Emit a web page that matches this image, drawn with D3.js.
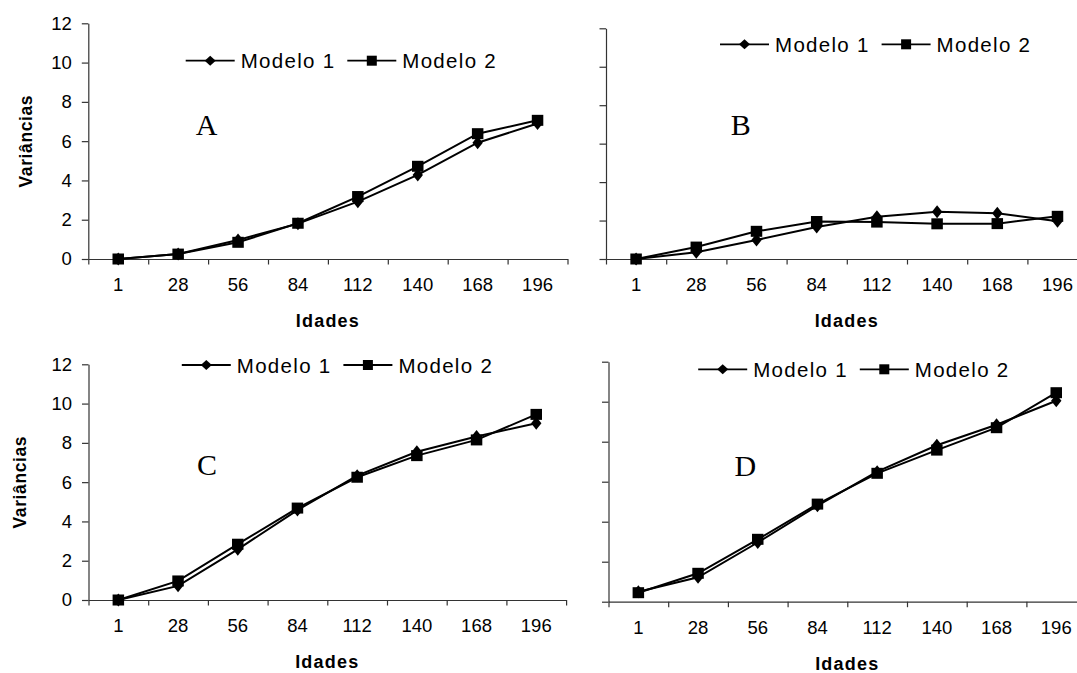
<!DOCTYPE html>
<html>
<head>
<meta charset="utf-8">
<script src="https://cdn.jsdelivr.net/npm/d3@7"></script>
<style>
  body { margin: 0; background: #fff; }
  svg { display: block; }
  .tick text { font-family: "Liberation Sans", Arial, sans-serif; font-size: 18.5px; fill: #000; }
</style>
</head>
<body>
<div id="chart"></div>
<script>
const ages = ['1', '28', '56', '84', '112', '140', '168', '196']
const seriesNames = ['Modelo 1', 'Modelo 2']
const yTicks = [0, 2, 4, 6, 8, 10, 12]
const panelLetters = ['A', 'B', 'C', 'D']

const aModelo1 = [0, 0.25, 0.97, 1.8, 2.92, 4.28, 5.92, 6.9]
const aModelo2 = [0, 0.25, 0.85, 1.82, 3.18, 4.72, 6.38, 7.06]
const bModelo1 = [0, 0.35, 0.99, 1.66, 2.2, 2.46, 2.38, 1.96]
const bModelo2 = [0, 0.62, 1.44, 1.95, 1.92, 1.83, 1.84, 2.22]
const cModelo1 = [0, 0.72, 2.58, 4.58, 6.33, 7.55, 8.32, 9.0]
const cModelo2 = [0, 0.97, 2.84, 4.68, 6.25, 7.35, 8.15, 9.45]
const dModelo1 = [0.5, 1.22, 2.96, 4.8, 6.5, 7.82, 8.85, 10.05]
const dModelo2 = [0.45, 1.42, 3.12, 4.88, 6.42, 7.58, 8.7, 10.45]

const width = 1077
const height = 673

// layout of each panel (axes placement, legend and letter positions)
const panels = [
  { letter: panelLetters[0], m1: aModelo1, m2: aModelo2, x0: 88.3, step: 59.9, yTop: 23.3, yBot: 259,
    labels: true, legX: 185.7, legY: 60.7, letX: 195.7, letY: 135, ytX: 26 },
  { letter: panelLetters[1], m1: bModelo1, m2: bModelo2, x0: 606, step: 60.2, yTop: 28.3, yBot: 259,
    labels: false, legX: 720, legY: 44.3, letX: 730.7, letY: 135 },
  { letter: panelLetters[2], m1: cModelo1, m2: cModelo2, x0: 88.5, step: 59.7, yTop: 364.3, yBot: 600,
    labels: true, legX: 181.8, legY: 365, letX: 197, letY: 475, ytX: 20 },
  { letter: panelLetters[3], m1: dModelo1, m2: dModelo2, x0: 608.5, step: 59.7, yTop: 361.7, yBot: 601.7,
    labels: false, legX: 698.2, legY: 369.3, letX: 734.5, letY: 475.5 }
]

const svg = d3
  .select('#chart')
  .append('svg')
  .attr('width', width)
  .attr('height', height)

const diamond = (hw, hh) => `M0,${-hh}L${hw},0L0,${hh}L${-hw},0Z`

function marker(g, type, x, y, big) {
  if (type === 0) {
    g.append('path')
      .attr('d', big ? diamond(5.2, 6.5) : diamond(5.5, 5))
      .attr('transform', `translate(${x},${y})`)
      .attr('fill', '#000')
  } else {
    const w = big ? 11.5 : 10
    const h = big ? 11 : 10
    g.append('rect')
      .attr('x', x - w / 2)
      .attr('y', y - h / 2)
      .attr('width', w)
      .attr('height', h)
      .attr('fill', '#000')
  }
}

panels.forEach(p => {
  const g = svg.append('g')

  const xScale = d3.scaleBand()
    .domain(ages)
    .range([p.x0, p.x0 + p.step * ages.length])
    .paddingInner(0)
    .paddingOuter(0)

  const edgeScale = d3.scaleLinear()
    .domain([0, ages.length])
    .range([p.x0, p.x0 + p.step * ages.length])

  const yScale = d3.scaleLinear()
    .domain([0, 12])
    .range([p.yBot, p.yTop])

  // y axis
  const yAxis = d3.axisLeft(yScale)
    .tickValues(yTicks)
    .tickSize(6.5)
    .tickSizeOuter(0)
    .tickPadding(10)
    .tickFormat(p.labels ? d3.format('d') : '')

  const ya = g.append('g')
    .attr('transform', `translate(${p.x0},0)`)
    .call(yAxis)
  ya.selectAll('line').attr('stroke', '#333').attr('stroke-width', 1.2)
  ya.select('.domain').attr('stroke', '#333').attr('stroke-width', 1.2)

  // x axis: ticks between categories
  const xAxis = d3.axisBottom(edgeScale)
    .tickValues(d3.range(0, ages.length + 1))
    .tickSize(5.5)
    .tickSizeOuter(0)
    .tickFormat('')

  const xa = g.append('g')
    .attr('transform', `translate(0,${p.yBot})`)
    .call(xAxis)
  xa.selectAll('line').attr('stroke', '#333').attr('stroke-width', 1.2)
  xa.select('.domain').attr('stroke', '#333').attr('stroke-width', 1.2)

  // category labels centred in each band
  g.selectAll('.age')
    .data(ages)
    .enter()
    .append('text')
    .attr('x', d => xScale(d) + xScale.bandwidth() / 2)
    .attr('y', p.yBot + 32)
    .attr('text-anchor', 'middle')
    .attr('font-family', '"Liberation Sans", Arial, sans-serif')
    .attr('font-size', 18.5)
    .text(d => d)

  // axis titles
  g.append('text')
    .attr('x', p.x0 + p.step * ages.length / 2)
    .attr('y', p.yBot + 68)
    .attr('text-anchor', 'middle')
    .attr('font-family', '"Liberation Sans", Arial, sans-serif')
    .attr('font-weight', 'bold')
    .attr('font-size', 18)
    .attr('letter-spacing', 1.2)
    .text('Idades')

  if (p.labels) {
    g.append('text')
      .attr('transform', `translate(${p.ytX + 6},${(p.yTop + p.yBot) / 2}) rotate(-90)`)
      .attr('text-anchor', 'middle')
      .attr('font-family', '"Liberation Sans", Arial, sans-serif')
      .attr('font-weight', 'bold')
      .attr('font-size', 17.5)
      .attr('letter-spacing', 0.6)
      .text('Variâncias')
  }

  // series
  const line = d3.line()
    .x((d, i) => xScale(ages[i]) + xScale.bandwidth() / 2)
    .y(d => yScale(d))

  const series = [p.m1, p.m2]
  series.forEach((values, s) => {
    g.append('path')
      .datum(values)
      .attr('d', line)
      .attr('fill', 'none')
      .attr('stroke', '#000')
      .attr('stroke-width', 2)
    values.forEach((v, i) => {
      marker(g, s, xScale(ages[i]) + xScale.bandwidth() / 2, yScale(v), true)
    })
  })

  // legend
  seriesNames.forEach((name, s) => {
    const lx = p.legX + s * 161.6
    g.append('line')
      .attr('x1', lx)
      .attr('x2', lx + 49)
      .attr('y1', p.legY)
      .attr('y2', p.legY)
      .attr('stroke', '#000')
      .attr('stroke-width', 1.8)
    marker(g, s, lx + 24.5, p.legY, false)
    g.append('text')
      .attr('x', lx + 55)
      .attr('y', p.legY + 7.5)
      .attr('font-family', '"Liberation Sans", Arial, sans-serif')
      .attr('font-size', 20.5)
      .attr('letter-spacing', 1.3)
      .text(name)
  })

  // panel letter
  g.append('text')
    .attr('x', p.letX)
    .attr('y', p.letY)
    .attr('font-family', '"Liberation Serif", "Times New Roman", serif')
    .attr('font-size', 30)
    .text(p.letter)
})
</script>
</body>
</html>
